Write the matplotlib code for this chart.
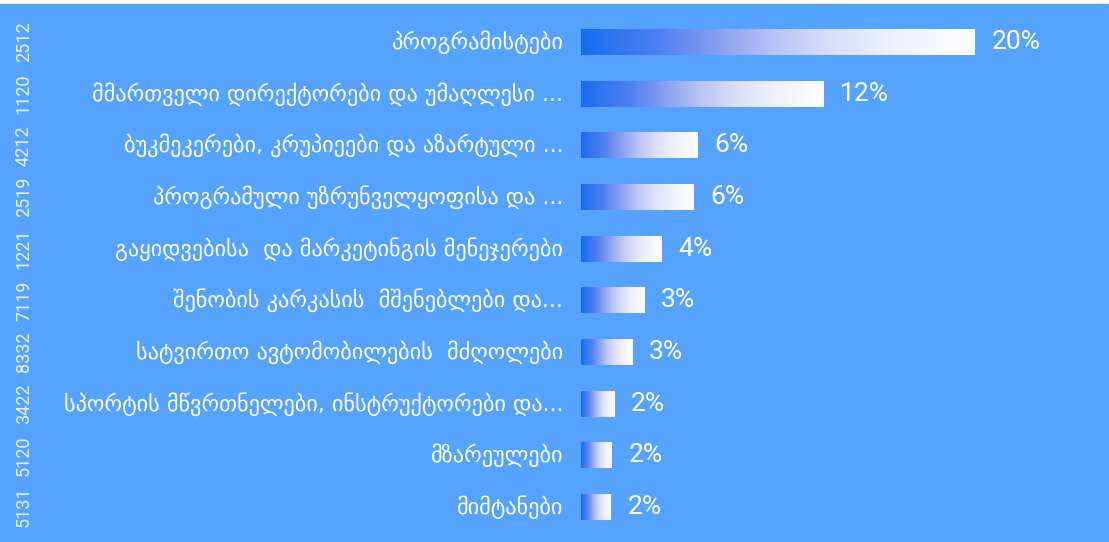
import matplotlib.pyplot as plt
import numpy as np
from matplotlib.colors import LinearSegmentedColormap

codes = ['2512', '1120', '4212', '2519', '1221', '7119', '8332', '3422', '5120', '5131']
labels = [
    'პროგრამისტები',
    'მმართველი დირექტორები და უმაღლესი ...',
    'ბუკმეკერები, კრუპიეები და აზარტული ...',
    'პროგრამული უზრუნველყოფისა და ...',
    'გაყიდვებისა  და მარკეტინგის მენეჯერები',
    'შენობის კარკასის  მშენებლები და...',
    'სატვირთო ავტომობილების  მძღოლები',
    'სპორტის მწვრთნელები, ინსტრუქტორები და...',
    'მზარეულები',
    'მიმტანები',
]
values = [20.0, 12.3, 5.9, 5.7, 4.1, 3.2, 2.6, 1.7, 1.55, 1.5]

bg = '#56A3FF'
grad = LinearSegmentedColormap.from_list('bar', [
    (0.0, '#176CF2'), (0.2, '#4F80F0'), (0.35, '#8AA0F0'), (0.5, '#BCC6F6'),
    (0.65, '#DCE0F9'), (0.8, '#EFF1FC'), (1.0, '#FFFFFF')])

W, H = 1109, 542
fig = plt.figure(figsize=(W / 100, H / 100), dpi=100, facecolor='white')
ax = fig.add_axes([0, 0, 1, (H - 4) / H])
ax.set_facecolor(bg)

# pixel layout -> data limits
px_per_unit = 19.7
x0 = 581
row0, step = 42, 51.67

ramp = np.linspace(0, 1, 256).reshape(1, -1)
bar_h = 0.5
for i, (v, lab, code) in enumerate(zip(values, labels, codes)):
    ax.imshow(ramp, cmap=grad, aspect='auto', interpolation='bilinear',
              extent=(0, v, i + bar_h / 2, i - bar_h / 2), zorder=2)
    ax.text(v + 0.85, i, f'{v:.0f}%', va='center', ha='left', color='white',
            fontsize=19, family=['Roboto', 'DejaVu Sans'], zorder=3)
    ax.text(-0.9, i, lab, va='center', ha='right', color='white', fontsize=16)
    ax.text(24 / W, i, code, rotation=90, va='center', ha='center', color='#EAF2FF',
            fontsize=13, family=['Roboto', 'DejaVu Sans'],
            transform=ax.get_yaxis_transform())

ax.set_xlim(-x0 / px_per_unit, (W - x0) / px_per_unit)
ax.set_ylim((H - row0) / step, (4 - row0) / step)
ax.axis('off')
fig.patches.append(plt.Rectangle((0, 0), 1, (H - 4) / H, transform=fig.transFigure,
                                 color=bg, zorder=-1))

fig.savefig('out.png', dpi=100, facecolor='white')
